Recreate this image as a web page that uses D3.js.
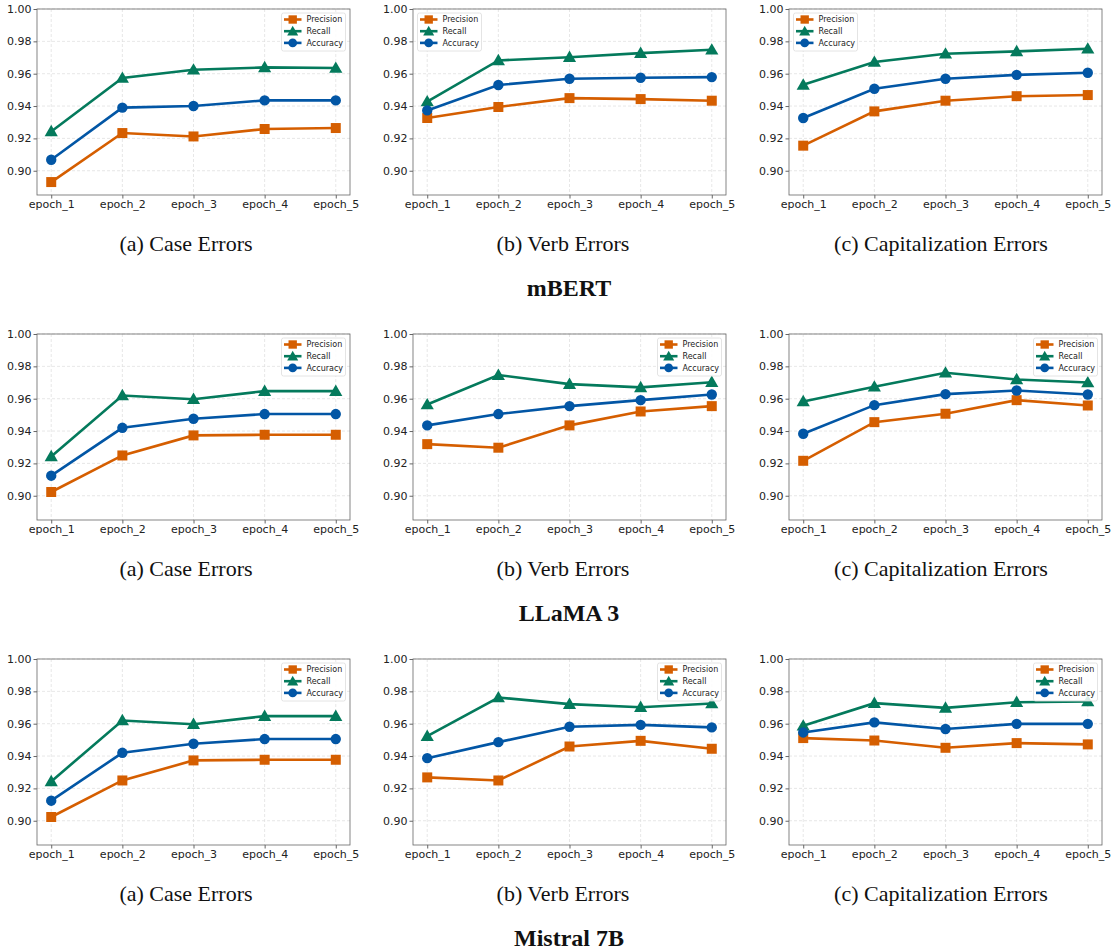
<!DOCTYPE html>
<html>
<head>
<meta charset="utf-8">
<script src="https://cdn.jsdelivr.net/npm/d3@7"></script>
<style>
    body { margin: 0; background: #fff; }
    .tick text { font-family: "DejaVu Sans", sans-serif; font-size: 11px; fill: #222; }
    .grid line { stroke: #dcdcdc; stroke-dasharray: 3,2; stroke-width: 0.7; }
    .caption { font-family: "Liberation Serif", "Times New Roman", serif; font-size: 22px; fill: #111; }
    .model { font-family: "Liberation Serif", "Times New Roman", serif; font-size: 24px; font-weight: bold; fill: #111; }
    .legend text { font-family: "DejaVu Sans", sans-serif; font-size: 8px; fill: #222; }
</style>
</head>
<body>
<div id="chart"></div>
<script>
// epochs on the x axis
var epochs = ["epoch_1", "epoch_2", "epoch_3", "epoch_4", "epoch_5"];
var metrics = ["Precision", "Recall", "Accuracy"];
var yTicks = [0.90, 0.92, 0.94, 0.96, 0.98, 1.00];

var models = ["mBERT", "LLaMA 3", "Mistral 7B"];
var errorTypes = ["(a) Case Errors", "(b) Verb Errors", "(c) Capitalization Errors"];

// each panel: [precision, recall, accuracy]
var mbertCase = [
    [0.8930, 0.9233, 0.9212, 0.9258, 0.9264],
    [0.9243, 0.9573, 0.9624, 0.9639, 0.9635],
    [0.9068, 0.9390, 0.9400, 0.9435, 0.9435]
];
var mbertVerb = [
    [0.9326, 0.9394, 0.9449, 0.9443, 0.9433],
    [0.9428, 0.9682, 0.9702, 0.9727, 0.9748],
    [0.9373, 0.9530, 0.9569, 0.9575, 0.9579]
];
var mbertCap = [
    [0.9155, 0.9367, 0.9433, 0.9461, 0.9468],
    [0.9531, 0.9672, 0.9723, 0.9738, 0.9754],
    [0.9326, 0.9507, 0.9569, 0.9593, 0.9606]
];
var llamaCase = [
    [0.9023, 0.9249, 0.9373, 0.9377, 0.9377],
    [0.9243, 0.9620, 0.9597, 0.9647, 0.9647],
    [0.9124, 0.9420, 0.9476, 0.9505, 0.9505]
];
var llamaVerb = [
    [0.9319, 0.9297, 0.9435, 0.9521, 0.9554],
    [0.9564, 0.9746, 0.9690, 0.9670, 0.9702],
    [0.9435, 0.9505, 0.9554, 0.9591, 0.9626]
];
var llamaCap = [
    [0.9216, 0.9455, 0.9507, 0.9591, 0.9558],
    [0.9583, 0.9674, 0.9760, 0.9719, 0.9700],
    [0.9383, 0.9560, 0.9628, 0.9651, 0.9626]
];
var mistralCase = [
    [0.9023, 0.9249, 0.9373, 0.9377, 0.9377],
    [0.9243, 0.9620, 0.9597, 0.9647, 0.9647],
    [0.9124, 0.9420, 0.9476, 0.9505, 0.9505]
];
var mistralVerb = [
    [0.9268, 0.9249, 0.9459, 0.9494, 0.9445],
    [0.9523, 0.9762, 0.9721, 0.9702, 0.9725],
    [0.9387, 0.9486, 0.9581, 0.9593, 0.9577]
];
var mistralCap = [
    [0.9511, 0.9496, 0.9451, 0.9480, 0.9472],
    [0.9587, 0.9727, 0.9698, 0.9733, 0.9737],
    [0.9546, 0.9608, 0.9567, 0.9599, 0.9599]
];

var panels = [
    [mbertCase, mbertVerb, mbertCap],
    [llamaCase, llamaVerb, llamaCap],
    [mistralCase, mistralVerb, mistralCap]
];

// where the legend sits in each panel
var legendSide = [
    ["right", "left", "left"],
    ["right", "right", "right"],
    ["right", "right", "right"]
];

var colors = ["#d55e00", "#047a5c", "#0256a5"];
var shapes = [d3.symbolSquare, d3.symbolTriangle, d3.symbolCircle];
var shapeSize = [100, 75, 85];

var W = 1115, H = 951;
var axW = 313, axH = 186;
var colX = [37, 413, 789];
var rowY = [9, 334, 659];
var rowStep = 325;
var captionX = [186, 563, 941];

var svg = d3.select("#chart")
    .append("svg")
    .attr("width", W)
    .attr("height", H);

var xScale = d3.scalePoint()
    .domain(epochs)
    .range([0, axW])
    .padding(0.2);

var yScale = d3.scaleLinear()
    .domain([0.885, 1.0])
    .range([axH, 0]);

var line = d3.line()
    .x(function(d, i) { return xScale(epochs[i]); })
    .y(function(d) { return yScale(d); });

panels.forEach(function(row, r) {
    row.forEach(function(series, c) {
        var g = svg.append("g")
            .attr("transform", "translate(" + colX[c] + "," + rowY[r] + ")");

        // grid
        g.append("g")
            .attr("class", "grid")
            .selectAll("line.h")
            .data(yTicks)
            .enter().append("line")
            .attr("x1", 0).attr("x2", axW)
            .attr("y1", function(d) { return yScale(d); })
            .attr("y2", function(d) { return yScale(d); });
        g.select(".grid")
            .selectAll("line.v")
            .data(epochs)
            .enter().append("line")
            .attr("class", "v")
            .attr("y1", 0).attr("y2", axH)
            .attr("x1", function(d) { return xScale(d); })
            .attr("x2", function(d) { return xScale(d); });

        // frame
        g.append("rect")
            .attr("width", axW)
            .attr("height", axH)
            .attr("fill", "none")
            .attr("stroke", "#666")
            .attr("stroke-width", 0.8);

        var xAxis = d3.axisBottom(xScale).tickSize(3.5).tickPadding(2);
        var yAxis = d3.axisLeft(yScale).tickValues(yTicks).tickFormat(d3.format(".2f")).tickSize(3.5).tickPadding(2);

        g.append("g")
            .attr("transform", "translate(0," + axH + ")")
            .call(xAxis)
            .call(function(a) { a.select(".domain").remove(); a.selectAll("line").attr("stroke", "#666"); });

        g.append("g")
            .call(yAxis)
            .call(function(a) { a.select(".domain").remove(); a.selectAll("line").attr("stroke", "#666"); });

        // lines + markers
        series.forEach(function(vals, k) {
            g.append("path")
                .datum(vals)
                .attr("d", line)
                .attr("fill", "none")
                .attr("stroke", colors[k])
                .attr("stroke-width", 2.6);

            g.selectAll(".m" + k)
                .data(vals)
                .enter().append("path")
                .attr("class", "m" + k)
                .attr("d", d3.symbol().type(shapes[k]).size(shapeSize[k]))
                .attr("transform", function(d, i) {
                    var dy = k === 1 ? 1 : 0;
                    return "translate(" + xScale(epochs[i]) + "," + (yScale(d) + dy) + ")";
                })
                .attr("fill", colors[k]);
        });

        // legend
        var lw = 64, lh = 38;
        var lx = legendSide[r][c] === "right" ? axW - lw - 4.5 : 4.5;
        var leg = g.append("g")
            .attr("class", "legend")
            .attr("transform", "translate(" + lx + ",4)");
        leg.append("rect")
            .attr("width", lw)
            .attr("height", lh)
            .attr("rx", 2)
            .attr("fill", "rgba(255,255,255,0.85)")
            .attr("stroke", "#ddd")
            .attr("stroke-width", 0.8);
        metrics.forEach(function(m, k) {
            var yy = 6.5 + k * 11.7;
            leg.append("line")
                .attr("x1", 2.5).attr("x2", 20)
                .attr("y1", yy).attr("y2", yy)
                .attr("stroke", colors[k])
                .attr("stroke-width", 2.6);
            leg.append("path")
                .attr("d", d3.symbol().type(shapes[k]).size(shapeSize[k] * 0.7))
                .attr("transform", "translate(11.2," + (yy + (k === 1 ? 1 : 0)) + ")")
                .attr("fill", colors[k]);
            leg.append("text")
                .attr("x", 25)
                .attr("y", yy)
                .attr("dy", "0.35em")
                .text(m);
        });

        // caption under panel
        svg.append("text")
            .attr("class", "caption")
            .attr("x", captionX[c])
            .attr("y", 243 + r * rowStep)
            .attr("dy", "0.35em")
            .attr("text-anchor", "middle")
            .text(errorTypes[c]);
    });

    svg.append("text")
        .attr("class", "model")
        .attr("x", 569)
        .attr("y", 288 + r * rowStep)
        .attr("dy", "0.35em")
        .attr("text-anchor", "middle")
        .text(models[r]);
});
</script>
</body>
</html>
